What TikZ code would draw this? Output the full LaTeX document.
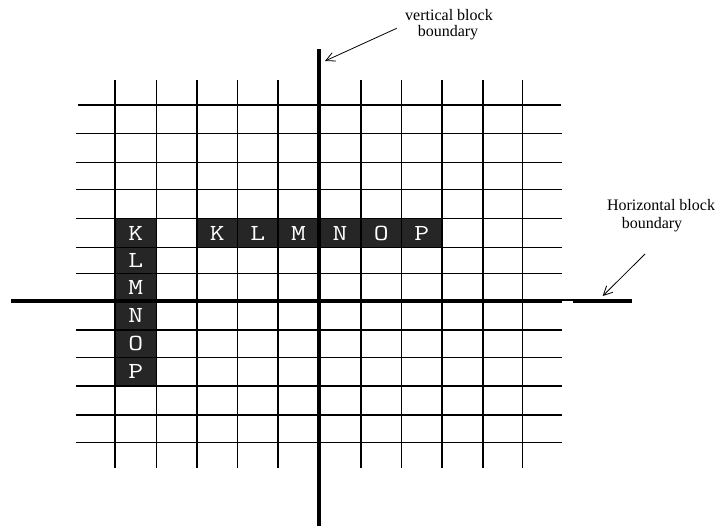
\documentclass[tikz,border=0pt]{standalone}
\usepackage{fontspec}
\usepackage{graphicx}
\setmainfont{Liberation Serif}
\usetikzlibrary{arrows.meta}
\definecolor{cellgray}{HTML}{262626}
\newcommand{\cellletter}[1]{\scalebox{1.25}[1]{#1}}
\begin{document}
\begin{tikzpicture}[x=1pt,y=-1pt,
  gridline/.style={line width=1.3pt},
  boundary/.style={line width=4.2pt},
  darkcell/.style={fill=cellgray},
  letter/.style={text=white, font=\ttfamily\fontsize{23}{23}\selectfont, inner sep=0pt},
  lbl/.style={font=\fontsize{16}{18}\selectfont, inner sep=0pt},
  pointer/.style={line width=0.8pt, -{Straight Barb[length=9pt,width=9pt]}}]
\useasboundingbox (0,0) rectangle (717,528);
% dark cells
\fill[darkcell] (115,218.7) rectangle (156.5,386);
\fill[darkcell] (197,218.7) rectangle (442,247.3);
% grid
\draw[gridline] (78,105) -- (561,105);
\foreach \y in {133.7,162.3,189.7,218.7,247.3,273.3,330,357.7,386,415,442.7}
  \draw[gridline] (75.7,\y) -- (562,\y);
\foreach \x in {115,156.5,197,237.5,278,361,401.5,442,483,522.3}
  \draw[gridline] (\x,80) -- (\x,468);
% block boundaries
\draw[boundary] (319,49) -- (319,526);
\draw[boundary] (11,300.7) -- (562,300.7);
\draw[line width=2pt] (562,299.6) -- (573,299.6);
\draw[boundary] (573,300.7) -- (632,300.7);
% letters, column
\node[letter] (cK) at (135.7,233) {\cellletter{K}};
\node[letter] (cL) at (135.7,260.3) {\cellletter{L}};
\node[letter] (cM) at (135.7,287) {\cellletter{M}};
\node[letter] (cN) at (135.7,315.3) {\cellletter{N}};
\node[letter] (cO) at (135.7,343.8) {\cellletter{O}};
\node[letter] (cP) at (135.7,371.8) {\cellletter{P}};
% letters, row
\node[letter] (rK) at (217.2,233) {\cellletter{K}};
\node[letter] (rL) at (257.7,233) {\cellletter{L}};
\node[letter] (rM) at (298.5,233) {\cellletter{M}};
\node[letter] (rN) at (340,233) {\cellletter{N}};
\node[letter] (rO) at (381.2,233) {\cellletter{O}};
\node[letter] (rP) at (421.7,233) {\cellletter{P}};
% labels
\node[lbl] (vt1) at (449,15) {vertical block};
\node[lbl] (vt2) at (448,33) {boundary};
\node[lbl] (ht1) at (661,205) {Horizontal block};
\node[lbl] (ht2) at (652,225) {boundary};
\coordinate (vtail) at (396.7,28.3);
\coordinate (vhead) at (325,61);
\coordinate (htail) at (645,254);
\coordinate (hhead) at (602.7,296);
\draw[pointer] (vtail) -- (vhead);
\draw[pointer] (htail) -- (hhead);
\end{tikzpicture}
\end{document}
